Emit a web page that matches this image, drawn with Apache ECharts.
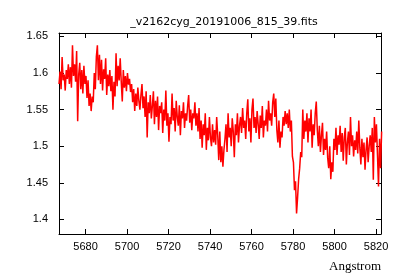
<!DOCTYPE html>
<html>
<head>
<meta charset="utf-8">
<script src="https://cdn.jsdelivr.net/npm/echarts@6/dist/echarts.min.js"></script>
<style>html,body{margin:0;padding:0;background:#fff}#c{width:400px;height:280px}</style>
</head>
<body>
<div id="c"></div>
<script>
// Wavelength grid (Angstrom): first sample and spacing
var waveStart = 5667.2;
var waveStep = 0.5;
// Flux values
var flux = [
1.585,1.602,1.578,1.622,1.590,1.598,1.576,1.604,1.592,1.612,
1.585,1.608,1.580,1.638,1.596,1.612,1.588,1.630,1.534,1.598,
1.614,1.578,1.604,1.572,1.610,1.585,1.596,1.566,1.590,1.555,
1.572,1.548,1.568,1.560,1.600,1.578,1.622,1.638,1.590,1.625,
1.585,1.618,1.576,1.605,1.592,1.620,1.570,1.598,1.582,1.604,
1.575,1.596,1.550,1.588,1.568,1.627,1.582,1.610,1.590,1.620,
1.588,1.561,1.604,1.580,1.596,1.575,1.600,1.584,1.592,1.574,
1.585,1.560,1.578,1.548,1.572,1.555,1.580,1.562,1.550,1.570,
1.585,1.552,1.568,1.540,1.575,1.512,1.560,1.545,1.570,1.538,
1.555,1.575,1.530,1.562,1.540,1.568,1.522,1.555,1.545,1.560,
1.518,1.550,1.535,1.576,1.528,1.545,1.506,1.540,1.530,1.572,
1.535,1.552,1.520,1.562,1.540,1.528,1.556,1.515,1.548,1.538,
1.560,1.525,1.545,1.535,1.555,1.570,1.532,1.550,1.522,1.545,
1.538,1.560,1.528,1.545,1.520,1.552,1.510,1.535,1.498,1.530,
1.515,1.545,1.495,1.525,1.508,1.540,1.512,1.500,1.530,1.505,
1.522,1.502,1.540,1.515,1.481,1.520,1.478,1.500,1.472,1.495,
1.510,1.530,1.492,1.545,1.512,1.525,1.500,1.538,1.520,1.485,
1.530,1.515,1.545,1.505,1.528,1.540,1.518,1.552,1.525,1.535,
1.510,1.545,1.564,1.520,1.538,1.505,1.550,1.565,1.525,1.540,
1.518,1.548,1.530,1.510,1.542,1.525,1.555,1.512,1.535,1.528,
1.550,1.520,1.562,1.535,1.545,1.528,1.560,1.572,1.540,1.565,
1.522,1.505,1.535,1.498,1.520,1.512,1.540,1.528,1.548,1.530,
1.545,1.525,1.550,1.520,1.535,1.486,1.478,1.440,1.452,1.408,
1.430,1.455,1.470,1.492,1.485,1.550,1.510,1.535,1.520,1.545,
1.505,1.538,1.520,1.550,1.498,1.530,1.515,1.545,1.561,1.522,
1.500,1.528,1.492,1.515,1.532,1.488,1.510,1.495,1.520,1.484,
1.470,1.500,1.455,1.478,1.465,1.510,1.495,1.525,1.488,1.515,
1.502,1.528,1.492,1.518,1.480,1.512,1.525,1.475,1.505,1.520,
1.488,1.540,1.500,1.515,1.486,1.508,1.495,1.520,1.490,1.535,
1.498,1.475,1.510,1.485,1.505,1.468,1.495,1.512,1.478,1.500,
1.515,1.492,1.525,1.454,1.540,1.505,1.530,1.488,1.445,1.510,
1.470,1.520
];
var xTicks = [5680,5700,5720,5740,5760,5780,5800,5820];
var yTicks = [1.4,1.45,1.5,1.55,1.6,1.65];
var yTickLabels = ['1.4','1.45','1.5','1.55','1.6','1.65'];
var titleText = '_v2162cyg_20191006_815_39.fits';
var xLabel = 'Angstrom';

var points = flux.map(function(v, i){ return [waveStart + i*waveStep, v]; });

var xMin = 5667.2, xMax = 5822.4, yMin = 1.38, yMax = 1.6547;
var txt = {fontFamily:'Liberation Sans', fontSize:11, color:'#000'};
function baseAxis(extra){
  var a = {
    type:'value', splitLine:{show:false},
    axisLine:{show:true, onZero:false, lineStyle:{color:'#000', width:1}},
    axisTick:{show:true, inside:true, length:5, lineStyle:{color:'#000'}},
    axisLabel:{show:false}
  };
  for (var k in extra) a[k] = extra[k];
  return a;
}
var chart = echarts.init(document.getElementById('c'), null, {renderer:'canvas'});
chart.setOption({
  animation:false,
  backgroundColor:'#fff',
  title:[
    {text:titleText, left:219, top:12, textAlign:'center', textStyle:{fontFamily:'DejaVu Sans', fontSize:11, fontWeight:'normal', color:'#000'}},
    {text:xLabel, right:14, top:255, textStyle:{fontFamily:'Liberation Serif', fontSize:13, fontWeight:'normal', color:'#000'}}
  ],
  grid:{left:59, top:33, right:19, bottom:46, containLabel:false},
  xAxis:[
    baseAxis({position:'bottom', min:xMin, max:xMax,
      axisTick:{show:true, inside:true, length:5, customValues:xTicks, lineStyle:{color:'#000'}},
      axisLabel:{show:true, customValues:xTicks, margin:7, formatter:function(v){return String(v);}, fontFamily:txt.fontFamily, fontSize:txt.fontSize, color:txt.color}}),
    baseAxis({position:'top', min:xMin, max:xMax,
      axisTick:{show:true, inside:true, length:5, customValues:xTicks, lineStyle:{color:'#000'}}})
  ],
  yAxis:[
    baseAxis({position:'left', min:yMin, max:yMax,
      axisTick:{show:true, inside:true, length:5, customValues:yTicks, lineStyle:{color:'#000'}},
      axisLabel:{show:true, customValues:yTicks, margin:11, formatter:function(v){var i=yTicks.indexOf(v); return i>=0?yTickLabels[i]:String(v);}, fontFamily:txt.fontFamily, fontSize:txt.fontSize, color:txt.color}}),
    baseAxis({position:'right', min:yMin, max:yMax,
      axisTick:{show:true, inside:true, length:5, customValues:yTicks, lineStyle:{color:'#000'}}})
  ],
  series:[{
    type:'line', data:points, xAxisIndex:0, yAxisIndex:0,
    showSymbol:false, symbol:'none', clip:true,
    lineStyle:{color:'#ff0000', width:1.5}
  }]
});
</script>
</body>
</html>
